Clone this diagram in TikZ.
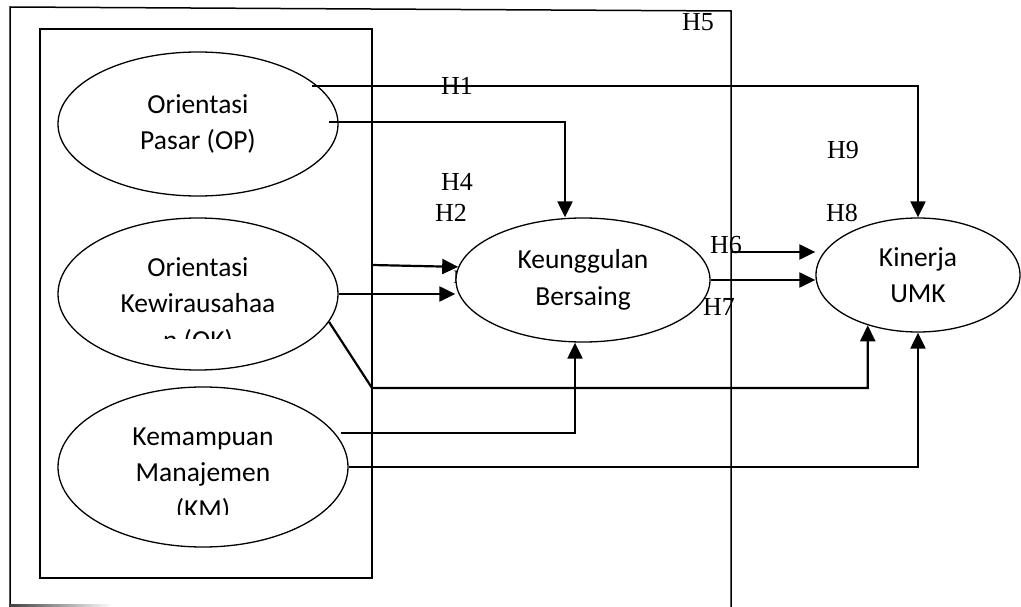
\documentclass[tikz,border=0pt]{standalone}
\usepackage{fontspec}
\setmainfont{Liberation Serif}
\newfontfamily\calibri{Carlito}
\usepackage{tikz}
\usetikzlibrary{shapes,arrows.meta}

\begin{document}
\begin{tikzpicture}[x=1pt,y=-1pt,
  latent/.style={ellipse, draw=black, line width=1.3pt, fill=white, inner sep=0pt, align=center, font=\calibri\fontsize{27.5}{36.5}\selectfont},
  lbl/.style={align=center, inner sep=0pt, font=\calibri\fontsize{27.5}{36.5}\selectfont},
  hyp/.style={inner sep=0pt, font=\fontsize{26}{26}\selectfont},
  conn/.style={line width=2.2pt, -{Triangle[length=16pt,width=15pt]}}]
\useasboundingbox (0,0) rectangle (1021,607);
%Boxes
\draw[line width=1.5pt] (10,605) -- (10,7) -- (731,11) -- (731,607);
\shade[left color=black!75, right color=white] (9,604) rectangle (112,606);
\draw[line width=2pt] (40,29) rectangle (372,578);
%Labels
\node[hyp] (h5) at (698,22) {H5};
\node[hyp] (h1) at (457,86) {H1};
\node[hyp] (h4) at (457,182) {H4};
\node[hyp] (h2) at (451,213) {H2};
\node[hyp, font=\fontsize{19}{19}\selectfont] (h3) at (465,277) {H3};
\node[hyp] (h9) at (843,150) {H9};
\node[hyp] (h8) at (842,213) {H8};
\node[hyp] (h6) at (726,245) {H6};
\node[hyp] (h7) at (719,307) {H7};
%Nodes
\node[latent, minimum width=280pt, minimum height=144pt] (op) at (198,124) {Orientasi\\Pasar (OP)};
\node[latent, minimum width=280pt, minimum height=152pt] (ok) at (198,294) {};
\node[latent, minimum width=290pt, minimum height=160pt] (km) at (203,467) {};
\node[latent, minimum width=254pt, minimum height=124pt] (kb) at (583,280) {Keunggulan\\Bersaing};
\node[latent, minimum width=204pt, minimum height=114pt] (umk) at (918,275) {Kinerja\\UMK};
\begin{scope}
\clip (40,200) rectangle (372,338);
\node[lbl] (oktext) at (198,305) {Orientasi\\Kewirausahaa\\n (OK)};
\end{scope}
\begin{scope}
\clip (40,400) rectangle (372,514);
\node[lbl] (kmtext) at (203,475) {Kemampuan\\Manajemen\\(KM)};
\end{scope}
%Connectors
\coordinate (opa) at (312,86);
\coordinate (opb) at (329,122);
\coordinate (okb) at (372,265);
\coordinate (okc) at (372,388);
\coordinate (kma) at (341,433);
\coordinate (h6a) at (732,252);

\draw[conn] (opa) -| (umk.north);
\draw[conn] (opb) -| ([xshift=-18pt]kb.north);
\draw[conn] (okb) -- (kb.174);
\draw[conn] (ok.east) -- (ok.east -| kb.west);
\draw[conn] (ok.-12) -- (okc) -| (umk.-135);
\draw[conn] (kma) -| ([xshift=-8pt]kb.south);
\draw[conn] (km.east) -| (umk.south);
\draw[conn] (kb.east) -- (kb.east -| umk.west);
\draw[conn] (h6a) -- (h6a -| umk.west);
\end{tikzpicture}
\end{document}
